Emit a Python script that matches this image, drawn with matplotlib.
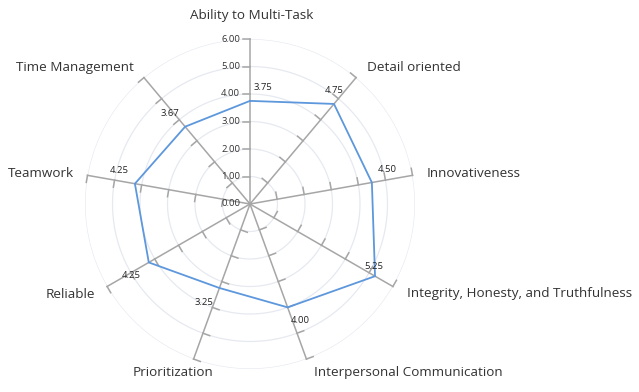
import numpy as np
import matplotlib
matplotlib.use('Agg')
import matplotlib.pyplot as plt

categories = ['Ability to Multi-Task', 'Detail oriented', 'Innovativeness',
              'Integrity, Honesty, and Truthfulness', 'Interpersonal Communication',
              'Prioritization', 'Reliable', 'Teamwork', 'Time Management']
values = [3.75, 4.75, 4.50, 5.25, 4.00, 3.25, 4.25, 4.25, 3.67]
value_labels = ['3.75', '4.75', '4.50', '5.25', '4.00', '3.25', '4.25', '4.25', '3.67']
r_ticks = [1, 2, 3, 4, 5, 6]
r_tick_labels = ['0.00', '1.00', '2.00', '3.00', '4.00', '5.00', '6.00']

plt.rcParams['font.family'] = ['Open Sans', 'DejaVu Sans']

spoke_c = '#a6a6a6'
grid_c = '#e6e9f0'
line_c = '#5d97dc'
text_c = '#333333'

fig = plt.figure(figsize=(6.39, 3.92), dpi=100)
ax = fig.add_axes([85 / 639, 23 / 392, 330 / 639, 330 / 392], projection='polar')
ax.set_theta_zero_location('N')
ax.set_theta_direction(-1)
ax.set_ylim(0, 6)
ax.grid(False)
ax.spines['polar'].set_visible(False)
ax.set_xticks([])
ax.set_yticks([])

n = len(categories)
angles = np.arange(n) * 2 * np.pi / n

# circular grid
circ = np.linspace(0, 2 * np.pi, 400)
for r in r_ticks:
    ax.plot(circ, [r] * len(circ), color=grid_c, lw=0.9, zorder=1)

# spokes with tick marks on the counter-clockwise side
d = 0.26
for th in angles:
    ax.plot([th, th], [0, 6], color=spoke_c, lw=1.1, zorder=2, clip_on=False)
    for r in r_ticks:
        ax.plot([th, th - np.arctan(d / r)], [r, np.hypot(r, d)],
                color=spoke_c, lw=1.1, zorder=2, clip_on=False)

# radial labels on the first spoke
for i, lab in enumerate(r_tick_labels):
    ax.annotate(lab, xy=(0, i), xytext=(-10 * 0.72, 0), textcoords='offset points',
                ha='right', va='center', fontsize=6.8, color=text_c,
                annotation_clip=False)

# data polygon
ax.plot(np.append(angles, angles[0]), values + values[:1], color=line_c, lw=1.3, zorder=3)

val_off = [(13, 13), (0, 13), (15, 13), (-1, 10), (13, -13), (-15, -15),
           (-18, -13), (-16, 13), (-15, 13)]
for th, v, lab, (dx, dy) in zip(angles, values, value_labels, val_off):
    ax.annotate(lab, xy=(th, v), xytext=(dx * 0.72, dy * 0.72), textcoords='offset points',
                ha='center', va='center', fontsize=6.8, color='#222222',
                annotation_clip=False, zorder=4)

cat_off = [(2, 23, 'center'), (11, 10, 'left'), (14.5, 2, 'left'), (14, -7.5, 'left'),
           (8, -13, 'left'), (20, -13, 'right'), (-12, -7.5, 'right'),
           (-13.5, 2, 'right'), (-10, 10, 'right')]
for th, lab, (dx, dy, ha) in zip(angles, categories, cat_off):
    ax.annotate(lab, xy=(th, 6), xytext=(dx * 0.72, dy * 0.72), textcoords='offset points',
                ha=ha, va='center', fontsize=9.7, color=text_c, annotation_clip=False)

fig.savefig('out.png', dpi=100)
